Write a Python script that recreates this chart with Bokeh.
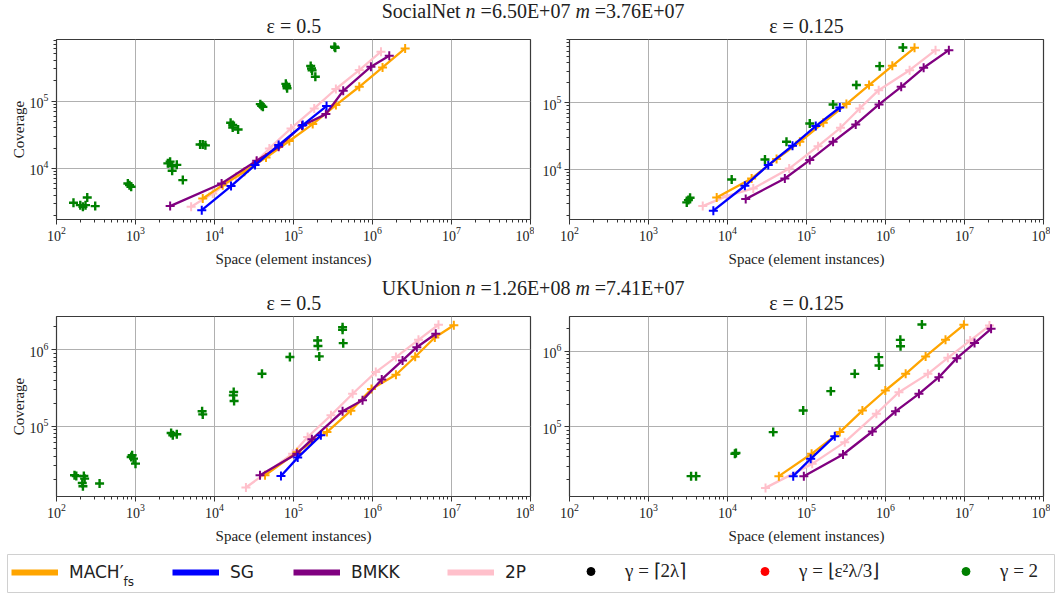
from bokeh.plotting import figure
from bokeh.layouts import column, row
from bokeh.models import Label, Legend, LegendItem, Range1d, FixedTicker, Spacer
from bokeh.embed import file_html
from bokeh.resources import INLINE

SERIF = "Liberation Serif"
SANS = "DejaVu Sans"
TXT = "#222222"

# ---------------- tick labels / categories ----------------
x_major_ticks = [1e2, 1e3, 1e4, 1e5, 1e6, 1e7, 1e8]
top_y_ticks = [1e4, 1e5]
bottom_y_ticks = [1e5, 1e6]
legend_labels = ["MACH′", "SG", "BMKK", "2P", "γ = ⌈2λ⌉", "γ = ⌊ε²λ/3⌋", "γ = 2"]

# ---------------- SocialNet, eps = 0.5 ----------------
sn05_mach_x = [7100, 12700, 23900, 44900, 88500, 175000, 344000, 680000, 1340000, 2590000]
sn05_mach_y = [3580, 5650, 8920, 14560, 25500, 45500, 87300, 163000, 316000, 605000]
sn05_sg_x = [6900, 16200, 32600, 64900, 131000, 262000]
sn05_sg_y = [2400, 5470, 11200, 22200, 44000, 84300]
sn05_bmkk_x = [2745, 12300, 34200, 64900, 128000, 257000, 426000, 955000, 1630000]
sn05_bmkk_y = [2760, 5990, 13000, 21000, 43000, 64000, 142000, 324000, 471000]
sn05_2p_x = [5060, 9500, 18700, 33600, 49500, 93000, 183000, 344000, 680000, 1280000]
sn05_2p_y = [2700, 4250, 7520, 12600, 19800, 39300, 77800, 151000, 288000, 541000]
sn05_g2_x = [164, 200, 216, 233, 245, 309, 800, 839, 881, 2567, 2742, 2911, 3334, 2911, 3972,
             6570, 7100, 7670, 16000, 17000, 17000, 19900, 39500, 38000, 41000, 81800, 80000, 83000,
             169000, 165000, 172000, 189000, 338000, 330000]
sn05_g2_y = [3090, 2850, 2700, 2850, 3710, 2760, 5990, 5650, 5340, 11900, 12600, 10800, 11300, 9220, 6710,
             22700, 22700, 22000, 47700, 44100, 40600, 37900, 85300, 90000, 82000, 167000, 180000, 155000,
             305000, 331000, 285000, 230000, 619000, 640000]

# ---------------- SocialNet, eps = 0.125 ----------------
sn0125_mach_x = [7300, 20200, 41800, 82400, 163000, 320000, 619000, 1220000, 2330000]
sn0125_mach_y = [3740, 7230, 14200, 25800, 49900, 95500, 185000, 361000, 674000]
sn0125_sg_x = [6620, 16600, 32800, 66500, 131000, 264000]
sn0125_sg_y = [2360, 5610, 11500, 22500, 44500, 85000]
sn0125_bmkk_x = [17000, 53200, 110000, 217000, 420000, 828000, 1580000, 3040000, 6340000]
sn0125_bmkk_y = [3530, 7230, 13700, 25800, 47100, 94400, 174000, 337000, 622000]
sn0125_2p_x = [4860, 9750, 21200, 60400, 140000, 269000, 472000, 820000, 2020000, 4300000]
sn0125_2p_y = [2770, 3920, 5110, 10200, 22200, 42000, 82200, 155000, 310000, 622000]
sn0125_g2_x = [3050, 3200, 3360, 11300, 29800, 55800, 110000, 217000, 428000, 843000, 1660000]
sn0125_g2_y = [3150, 3410, 3700, 6980, 14000, 25800, 48800, 94400, 185000, 357000, 682000]

# ---------------- UKUnion, eps = 0.5 ----------------
uk05_mach_x = [43600, 111000, 265000, 532000, 972000, 1980000, 3470000, 6150000, 10700000]
uk05_mach_y = [22600, 45200, 83400, 159000, 305000, 470000, 810000, 1450000, 2100000]
uk05_sg_x = [69400, 113000, 222000]
uk05_sg_y = [22100, 38500, 75500]
uk05_bmkk_x = [37700, 110000, 171000, 418000, 748000, 1310000, 2400000, 3640000, 6320000]
uk05_bmkk_y = [22600, 43400, 66800, 156000, 217000, 408000, 725000, 1080000, 1620000]
uk05_2p_x = [25000, 97500, 151000, 298000, 560000, 1100000, 1980000, 3820000, 6840000]
uk05_2p_y = [15600, 43400, 71800, 138000, 265000, 509000, 802000, 1350000, 2130000]
uk05_g2_x = [169, 178, 222, 227, 216, 212, 351, 881, 907, 944, 1000, 2825, 2965, 3334, 6970, 7100,
             17500, 17300, 17700, 39900, 90000, 202000, 204000, 212000, 418000, 418000, 426000]
uk05_g2_y = [22600, 22100, 22100, 20400, 16200, 17900, 17600, 39300, 41300, 37300, 32100, 80900, 75500,
             77800, 156000, 142000, 279000, 252000, 213000, 485000, 802000, 1320000, 1120000, 818000,
             1980000, 1830000, 1220000]

# ---------------- UKUnion, eps = 0.125 ----------------
uk0125_mach_x = [44700, 116000, 264000, 510000, 995000, 1800000, 3220000, 5750000, 9820000]
uk0125_mach_y = [22300, 44000, 85100, 164000, 302000, 501000, 851000, 1410000, 2230000]
uk0125_sg_x = [67900, 113000, 228000]
uk0125_sg_y = [22300, 37800, 75300]
uk0125_bmkk_x = [92500, 290000, 682000, 1340000, 2650000, 4740000, 8000000, 13400000, 21700000]
uk0125_bmkk_y = [22300, 43100, 86700, 160000, 273000, 453000, 808000, 1280000, 1970000]
uk0125_2p_x = [30300, 118000, 305000, 766000, 1480000, 3440000, 6150000, 11800000, 20700000]
uk0125_2p_y = [15600, 32400, 62700, 149000, 287000, 501000, 816000, 1380000, 2180000]
uk0125_g2_x = [3460, 4000, 12400, 12800, 37900, 90800, 203000, 408000, 820000, 828000, 1540000, 1550000, 2890000]
uk0125_g2_y = [22300, 22300, 44100, 45000, 85100, 164000, 296000, 501000, 833000, 647000, 1410000, 1160000, 2250000]

COL_MACH, COL_SG, COL_BMKK, COL_2P = "orange", "blue", "purple", "pink"
COL_G2 = "green"

PAGE_W = 1058


def minor_ticks(lo, hi, lo_e, hi_e):
    return [k * 10.0 ** e for e in range(lo_e, hi_e + 1) for k in range(2, 10) if lo <= k * 10.0 ** e <= hi]


def style_axis(ax, standoff, label_standoff):
    ax.major_label_text_font = SERIF
    ax.major_label_text_font_size = "14px"
    ax.major_label_text_color = TXT
    ax.major_label_standoff = standoff
    ax.axis_label_text_font = SERIF
    ax.axis_label_text_font_size = "15px"
    ax.axis_label_text_font_style = "normal"
    ax.axis_label_text_color = TXT
    ax.axis_label_standoff = label_standoff
    ax.axis_line_color = None
    ax.major_tick_in = 0
    ax.major_tick_out = 5
    ax.minor_tick_in = 0
    ax.minor_tick_out = 3
    ax.major_tick_line_color = "#333333"
    ax.minor_tick_line_color = "#333333"


def panel(series, g2x, g2y, yrange, yticks, width, bl, br, height, bt, bb, ylabel=None):
    p = figure(width=width, height=height, x_axis_type="log", y_axis_type="log",
               x_range=Range1d(1e2, 1e8), y_range=Range1d(*yrange),
               min_border_left=bl, min_border_right=br, min_border_top=bt, min_border_bottom=bb,
               toolbar_location=None, output_backend="svg")
    p.outline_line_color = "#3a3a3a"
    p.outline_line_width = 1.2
    xt = FixedTicker(ticks=x_major_ticks, minor_ticks=minor_ticks(1e2, 1e8, 2, 7))
    yt = FixedTicker(ticks=yticks, minor_ticks=minor_ticks(yrange[0], yrange[1], 3, 6))
    p.xaxis[0].ticker = xt
    p.yaxis[0].ticker = yt
    p.xgrid[0].ticker = xt
    p.ygrid[0].ticker = yt
    p.grid.grid_line_color = "#b0b0b0"
    p.grid.grid_line_width = 1
    style_axis(p.xaxis[0], 2, 7)
    style_axis(p.yaxis[0], 3, 0)
    p.xaxis.axis_label = "Space (element instances)"
    if ylabel:
        p.yaxis.axis_label = ylabel
    for xs, ys, col in series:
        p.line(xs, ys, line_color=col, line_width=2.3)
        p.scatter(xs, ys, marker="cross", size=9, line_color=col, line_width=2)
    p.scatter(g2x, g2y, marker="cross", size=9, line_color=COL_G2, line_width=2.4)
    return p


def header(h, name, n_txt, m_txt, sub_left, sub_right):
    p = figure(width=PAGE_W, height=h, x_range=Range1d(0, PAGE_W), y_range=Range1d(0, h),
               min_border=0, x_axis_location=None, y_axis_location=None,
               toolbar_location=None, output_backend="svg", outline_line_color=None)
    p.grid.visible = False
    start = 381.2
    parts = [(name, "normal", 0.0), ("n", "italic", 83.9), (n_txt, "normal", 98.9),
             ("m", "italic", 193.7), (m_txt, "normal", 213.1)]
    for txt, st, dx in parts:
        p.add_layout(Label(x=start + dx, y=25.5, text=txt, text_font=SERIF, text_font_size="20px",
                           text_font_style=st, text_baseline="middle", text_align="left",
                           text_color=TXT))
    for txt, cx in ((sub_left, 293.4), (sub_right, 806.0)):
        p.add_layout(Label(x=cx, y=10.5, text=txt, text_font=SERIF, text_font_size="20px",
                           text_baseline="middle", text_align="center", text_color=TXT))
    return p


h1 = header(36, "SocialNet", "=6.50E+07", "=3.76E+07", "ε = 0.5", "ε = 0.125")
h2 = header(39, "UKUnion", "=1.26E+08", "=7.41E+07", "ε = 0.5", "ε = 0.125")

tl = panel([(sn05_2p_x, sn05_2p_y, COL_2P), (sn05_mach_x, sn05_mach_y, COL_MACH),
            (sn05_bmkk_x, sn05_bmkk_y, COL_BMKK), (sn05_sg_x, sn05_sg_y, COL_SG)],
           sn05_g2_x, sn05_g2_y, (1746, 8.2e5), top_y_ticks, 534, 56, 4, 238, 3, 55, "Coverage")
tr = panel([(sn0125_2p_x, sn0125_2p_y, COL_2P), (sn0125_mach_x, sn0125_mach_y, COL_MACH),
            (sn0125_bmkk_x, sn0125_bmkk_y, COL_BMKK), (sn0125_sg_x, sn0125_sg_y, COL_SG)],
           sn0125_g2_x, sn0125_g2_y, (1740, 9.0e5), top_y_ticks, 516, 35, 7, 238, 3, 55)
bl = panel([(uk05_2p_x, uk05_2p_y, COL_2P), (uk05_mach_x, uk05_mach_y, COL_MACH),
            (uk05_bmkk_x, uk05_bmkk_y, COL_BMKK), (uk05_sg_x, uk05_sg_y, COL_SG)],
           uk05_g2_x, uk05_g2_y, (1.19e4, 2.73e6), bottom_y_ticks, 534, 56, 4, 241, 3, 58, "Coverage")
br = panel([(uk0125_2p_x, uk0125_2p_y, COL_2P), (uk0125_mach_x, uk0125_mach_y, COL_MACH),
            (uk0125_bmkk_x, uk0125_bmkk_y, COL_BMKK), (uk0125_sg_x, uk0125_sg_y, COL_SG)],
           uk0125_g2_x, uk0125_g2_y, (1.2e4, 2.87e6), bottom_y_ticks, 516, 35, 7, 241, 3, 58)

# ---------------- legend strip ----------------
LG_W, LG_H = 1048, 39
lg = figure(width=LG_W, height=LG_H, x_range=Range1d(0, LG_W), y_range=Range1d(0, LG_H),
            min_border=0, x_axis_location=None, y_axis_location=None,
            toolbar_location=None, output_backend="svg")
lg.grid.visible = False
lg.outline_line_color = "#d0d0d0"
lg.outline_line_width = 1

# legend-only renderers, kept outside the visible range
off = [-50, -40]
r_mach = lg.line(x=off, y=off, line_color=COL_MACH, line_width=6)
r_sg = lg.line(x=off, y=off, line_color=COL_SG, line_width=6)
r_bmkk = lg.line(x=off, y=off, line_color=COL_BMKK, line_width=6)
r_2p = lg.line(x=off, y=off, line_color=COL_2P, line_width=6)
r_b = lg.scatter(x=off, y=off, marker="circle", size=6, color="black")
r_r = lg.scatter(x=off, y=off, marker="circle", size=6, color="red")
r_g = lg.scatter(x=off, y=off, marker="circle", size=6, color=COL_G2)

entries = [(legend_labels[0], r_mach, 4, SANS, "17px"),
           (legend_labels[1], r_sg, 165, SANS, "17px"),
           (legend_labels[2], r_bmkk, 286, SANS, "17px"),
           (legend_labels[3], r_2p, 440, SANS, "17px"),
           (legend_labels[4], r_b, 560, SERIF, "19px"),
           (legend_labels[5], r_r, 734, SERIF, "19px"),
           (legend_labels[6], r_g, 935, SERIF, "19px")]
for lab, rend, lx, font, fs in entries:
    leg = Legend(items=[LegendItem(label=lab, renderers=[rend])], location=(lx, 11),
                 orientation="horizontal", glyph_width=47, glyph_height=20, label_height=20,
                 label_standoff=11, padding=0, margin=0, spacing=0,
                 border_line_color=None, background_fill_alpha=0,
                 label_text_font=font, label_text_font_size=fs, label_text_color=TXT)
    lg.add_layout(leg, "center")
lg.add_layout(Label(x=116, y=12, text="fs", text_font=SANS, text_font_size="12px",
                    text_baseline="middle", text_color=TXT))

layout = column(h1, row(tl, tr), h2, row(bl, br), row(Spacer(width=7, height=LG_H), lg))

open("out.html", "w").write(file_html(layout, INLINE))
